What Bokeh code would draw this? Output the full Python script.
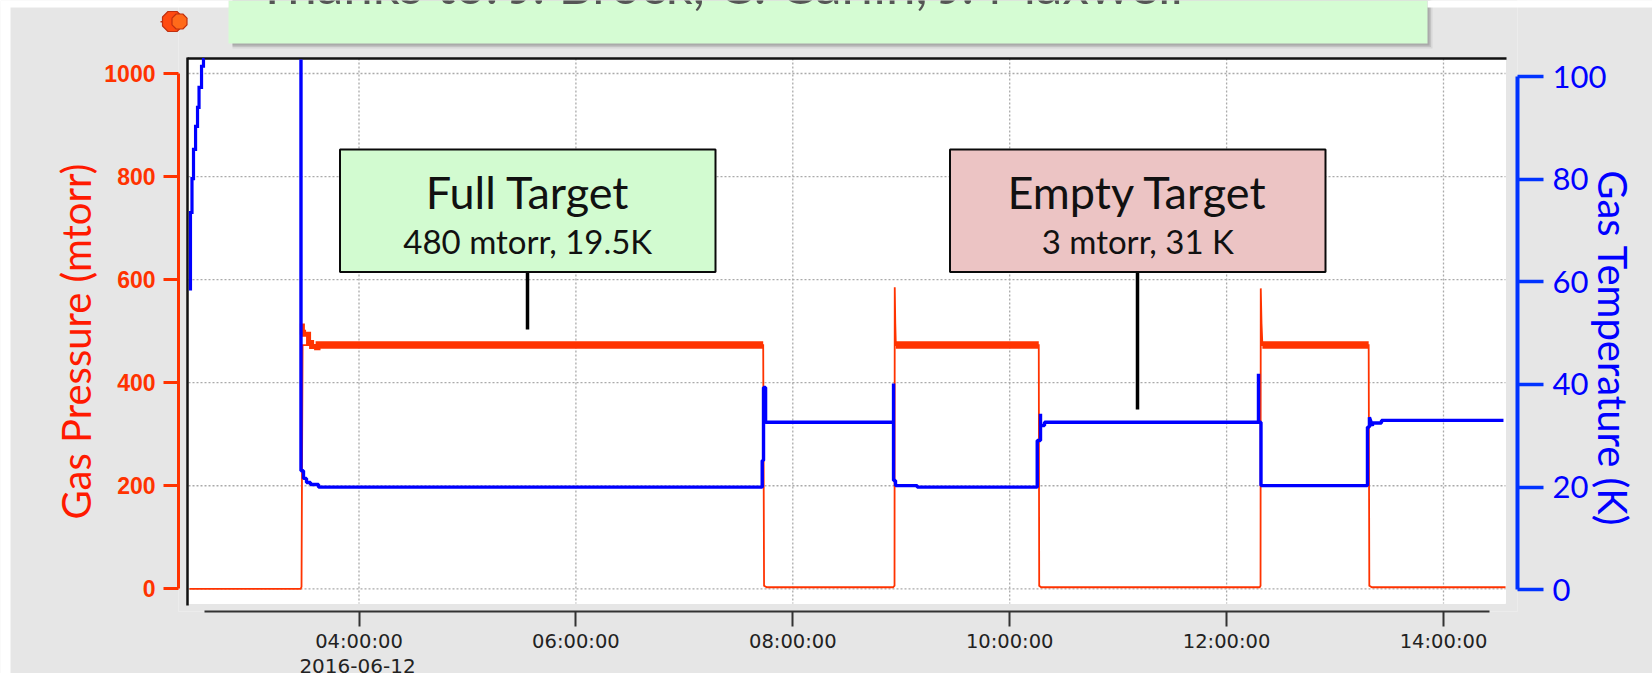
from bokeh.plotting import figure
from bokeh.embed import file_html
from bokeh.resources import INLINE
from bokeh.models import (Range1d, LinearAxis, FixedTicker, Label, BoxAnnotation, PolyAnnotation)

# ---- data (hours of the day, mtorr, K) ----
x_tick_hours = [4, 6, 8, 10, 12, 14]
x_tick_labels = ["04:00:00", "06:00:00", "08:00:00", "10:00:00", "12:00:00", "14:00:00"]
pressure_ticks = [0, 200, 400, 600, 800, 1000]
temperature_ticks = [0, 20, 40, 60, 80, 100]

pressure_hours = [2.437, 3.462, 3.470, 3.474, 3.480, 7.727, 7.735, 7.760,
                  8.925, 8.938, 8.940, 8.945, 8.950, 10.268, 10.272, 10.290,
                  12.305, 12.313, 12.315, 12.322, 12.330, 13.310, 13.316, 13.340, 14.572]
pressure_mtorr = [0, 0, 4, 210, 473, 473, 6, 3,
                  3, 6, 585, 515, 473, 473, 6, 3,
                  3, 6, 583, 515, 473, 473, 6, 3, 3]
decay_hours = [3.478, 3.478, 3.489, 3.489, 3.535, 3.535, 3.563, 3.563, 3.609, 3.609, 3.645]
decay_mtorr = [515, 498, 498, 494, 494, 478, 478, 470, 470, 468, 468]
plateau_hours = [[3.600, 7.727], [8.950, 10.268], [12.330, 13.310]]
plateau_mtorr = [[473, 473], [473, 473], [473, 473]]

temp_hours_a = [2.446, 2.446, 2.460, 2.474, 2.493, 2.511, 2.525, 2.548, 2.566, 2.576]
temp_k_a = [58.3, 66.9, 73.5, 80.1, 85.8, 90.3, 94.0, 97.9, 102.0, 103.3]
temp_hours_b = [3.465, 3.465, 3.488, 3.488, 3.516, 3.516, 3.553, 3.553, 3.627, 3.627,
                7.718, 7.718, 7.730, 7.730, 7.749, 7.749,
                8.929, 8.929, 8.929, 8.947, 8.947, 9.147, 9.147, 10.254, 10.254, 10.284, 10.284,
                10.284, 10.321, 10.321,
                12.294, 12.294, 12.294, 12.317, 12.317, 13.299, 13.299, 13.317, 13.317,
                13.345, 13.345, 13.428, 13.428, 14.553]
temp_k_b = [103.3, 23.2, 23.2, 21.7, 21.7, 20.9, 20.9, 20.5, 20.5, 20.0,
            20.0, 25.2, 25.2, 39.4, 39.4, 32.65,
            32.65, 40.2, 21.3, 21.3, 20.3, 20.3, 20.0, 20.0, 29.1, 29.1, 34.3,
            32.0, 32.0, 32.65,
            32.65, 42.1, 32.65, 32.65, 20.3, 20.3, 31.7, 31.7, 33.6,
            31.9, 32.5, 32.5, 33.0, 33.0]

# ---- pixel geometry of the page ----
W, H = 1652, 673
F_L, F_R, F_T, F_B = 178, 1517, 0, 611
PX_H, X4 = 108.45, 358.5
PY_M, Y0 = 0.5153, 588.3
PY_K, T0 = 5.133, 589.3

def X(px): return 4 + (px - X4) / PX_H
def Y(py): return (Y0 - py) / PY_M

GRAY = "#e6e6e6"
RED = "#ff3300"
BLUE = "#0000ff"
AXBLUE = "#0033ff"
SANS = "Lato"

p = figure(width=W, height=H, output_backend="svg", toolbar_location=None,
           x_range=Range1d(X(F_L), X(F_R)), y_range=Range1d(Y(F_B), Y(F_T)),
           x_axis_location=None, y_axis_location=None,
           min_border_left=F_L, min_border_right=W - F_R, min_border_top=F_T, min_border_bottom=H - F_B,
           margin=0)
p.frame_width = F_R - F_L
p.frame_height = F_B - F_T
p.grid.visible = False
p.outline_line_color = None
p.background_fill_color = GRAY
p.border_fill_color = GRAY
p.extra_y_ranges["temp"] = Range1d(-(F_B - T0) / PY_K, (T0 - F_T) / PY_K)

# page-pixel layer above the chart, for the slide furniture around it
ov = figure(width=W, height=H, output_backend="svg", toolbar_location=None,
            x_range=Range1d(0, W), y_range=Range1d(H, 0), x_axis_location=None, y_axis_location=None,
            min_border_left=0, min_border_right=0, min_border_top=0, min_border_bottom=0, margin=0,
            styles={"position": "absolute", "left": "0px", "top": "0px"})
ov.frame_width = W
ov.frame_height = H
ov.grid.visible = False
ov.outline_line_color = None
ov.background_fill_alpha = 0
ov.border_fill_alpha = 0

def box(l, r, t, b, col, alpha=1.0, line=None, lw=0):
    ov.add_layout(BoxAnnotation(left=l, right=r, top=t, bottom=b, fill_color=col, fill_alpha=alpha,
                                line_color=line, line_alpha=1.0, line_width=lw))

def label(px, py, text, size, color, font=SANS, align="center", baseline="middle", angle=0):
    ov.add_layout(Label(x=px, y=py, text=text, text_font=font,
                        text_font_size=size, text_color=color, text_align=align, text_baseline=baseline,
                        angle=angle, angle_units="deg"))

# axes
left = LinearAxis(ticker=FixedTicker(ticks=pressure_ticks), bounds=(0, 1000))
left.axis_line_color = RED; left.axis_line_width = 3
left.major_tick_line_color = RED; left.major_tick_line_width = 3
left.major_tick_out = 15; left.major_tick_in = 0; left.minor_tick_out = 0; left.minor_tick_in = 0
left.major_label_standoff = 8
left.major_label_text_color = RED
left.major_label_text_font = "Liberation Sans"
left.major_label_text_font_style = "bold"
left.major_label_text_font_size = "23px"
p.add_layout(left, "left")

right = LinearAxis(y_range_name="temp", ticker=FixedTicker(ticks=temperature_ticks), bounds=(0, 100))
right.axis_line_color = AXBLUE; right.axis_line_width = 4
right.major_tick_line_color = AXBLUE; right.major_tick_line_width = 3.5
right.major_tick_out = 26; right.major_tick_in = 0; right.minor_tick_out = 0; right.minor_tick_in = 0
right.major_label_standoff = 9
right.major_label_text_color = BLUE
right.major_label_text_font = SANS
right.major_label_text_font_size = "31px"
p.add_layout(right, "right")

bottom = LinearAxis(ticker=FixedTicker(ticks=x_tick_hours), bounds=(X(204), X(1489)),
                    major_label_overrides=dict(zip(x_tick_hours, x_tick_labels)))
bottom.axis_line_color = "#333333"; bottom.axis_line_width = 2
bottom.major_tick_line_color = "#333333"; bottom.major_tick_line_width = 2
bottom.major_tick_out = 15; bottom.major_tick_in = 0; bottom.minor_tick_out = 0; bottom.minor_tick_in = 0
bottom.major_label_standoff = 3
bottom.major_label_text_color = "#222222"
bottom.major_label_text_font = "DejaVu Sans"
bottom.major_label_text_font_size = "19.5px"
p.add_layout(bottom, "below")

# white plot area
p.quad(left=X(187), right=X(1505), top=Y(58), bottom=Y(603), color="white", level="underlay")

# dotted grid
p.segment(x_tick_hours, [Y(58)] * 6, x_tick_hours, [Y(603)] * 6, line_color="#aaaaaa", line_width=1.3, line_dash="2 2")
p.segment([X(188)] * 6, pressure_ticks, [X(1505)] * 6, pressure_ticks, line_color="#aaaaaa", line_width=1.3, line_dash="2 2")

# frame lines
p.segment([X(187)], [Y(58)], [X(1506)], [Y(58)], line_color="#111111", line_width=2.5)
p.segment([X(187)], [Y(57)], [X(187)], [Y(605)], line_color="#111111", line_width=2.5)

# series
p.line(pressure_hours, pressure_mtorr, line_color=RED, line_width=1.8, line_join="miter")
p.line(decay_hours, decay_mtorr, line_color=RED, line_width=5, line_join="miter")
p.multi_line(plateau_hours, plateau_mtorr, line_color=RED, line_width=7.5)
p.step(temp_hours_a, temp_k_a, mode="before", y_range_name="temp", line_color=BLUE, line_width=3.2, line_join="miter")
p.line(temp_hours_b, temp_k_b, y_range_name="temp", line_color=BLUE, line_width=3.4, line_join="bevel")

# leader lines
p.segment([X(527), X(1137)], [Y(272), Y(272)], [X(527), X(1137)], [Y(329), Y(409)], line_color="black", line_width=3.5)

# call-out boxes
for l, r, col, t1, t2 in [(339.5, 715, "#d2fbd0", "Full Target", "480 mtorr, 19.5K"),
                          (949.5, 1325, "#ecc4c4", "Empty Target", "3 mtorr, 31 K")]:
    box(l, r, 149, 271.5, col, 1.0, "#0a0a0a", 2)
    label((l + r) / 2, 191, t1, "45px", "#111111")
    label((l + r) / 2, 240, t2, "33px", "#111111")

# top banner with shadow
for off, a in [(5, 0.10), (3.5, 0.16), (2, 0.22)]:
    box(232, 1427 + off, 0, 43 + off, "#555555", a)
box(228, 1427, 0, 43, "#d5fcd3")
label(256, -17, "Thanks to: J. Brock, C. Carlin, J. Maxwell", "53px", "#555555", align="left", baseline="alphabetic")

# white strips of the page above and left of the grey panel
box(0, 10, 0, H, "white")
box(0, 228, 0, 7, "white")
box(1427, W, 0, 7, "white")

# push-pin
def octagon(cx, cy, r):
    k = 0.45 * r
    return ([cx - k, cx + k, cx + r, cx + r, cx + k, cx - k, cx - r, cx - r],
            [cy - r, cy - r, cy - k, cy + k, cy + r, cy + r, cy + k, cy - k])
box(160, 166, 20.5, 22, "#c03010")
for cx, r, col in [(172, 10, "#ff4a10"), (179, 7.5, "#ff6a1a")]:
    xs, ys = octagon(cx, 21, r)
    ov.add_layout(PolyAnnotation(xs=xs, ys=ys, fill_color=col, fill_alpha=1,
                                 line_color="#c03010", line_width=1.2, line_alpha=1.0))

# axis titles and date line
label(75, 341, "Gas Pressure (mtorr)", "40px", "#ff1a00", angle=90)
label(1612, 348, "Gas Temperature (K)", "40px", BLUE, angle=-90)
label(357, 665, "2016-06-12", "20px", "#222222", font="DejaVu Sans")

open("out.html", "w").write(file_html([p, ov], INLINE))
